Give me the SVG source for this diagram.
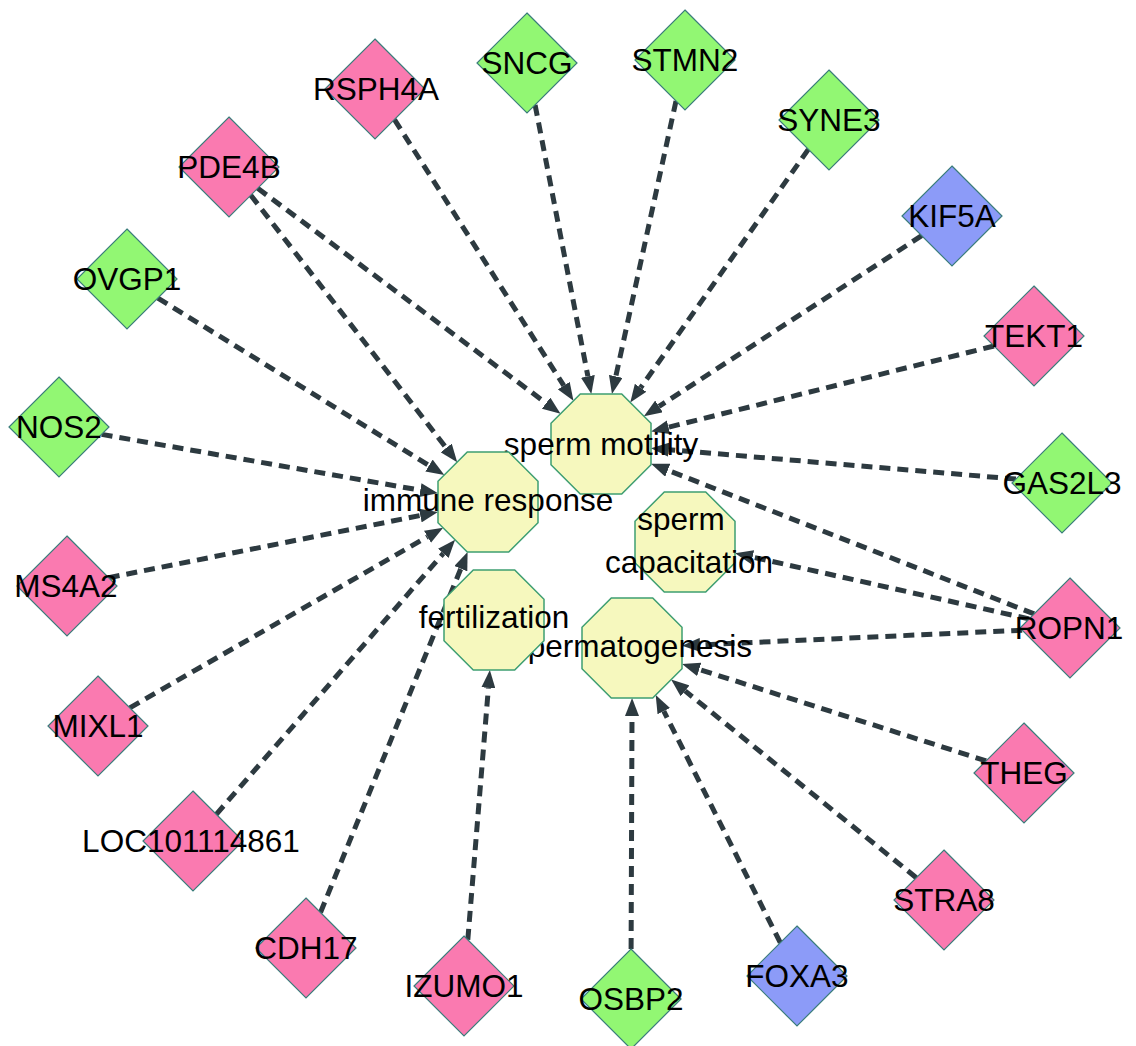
<svg xmlns="http://www.w3.org/2000/svg" width="1136" height="1046" viewBox="0 0 1136 1046">
<style>
.edge{stroke:#2D3A40;stroke-width:5;stroke-dasharray:11 7;fill:none;marker-end:url(#arr)}
.dia{stroke:#3A7D7B;stroke-width:1.2}
.pink{fill:#FA7AB0}
.green{fill:#92F773}
.blue{fill:#8C9BF8}
.oct{fill:#F6F8BE;stroke:#3E9E72;stroke-width:1.5}
text{font-family:"Liberation Sans",Arial,sans-serif;font-size:31.5px;fill:#000;text-anchor:middle}
</style>
<defs>
<marker id="arr" viewBox="0 0 18 14" refX="0" refY="7" markerWidth="18" markerHeight="14" orient="auto" markerUnits="userSpaceOnUse"><path d="M0,0 L18,7 L0,14 z" fill="#2D3A40"/></marker>
<polygon id="dshape" points="0,-50 50,0 0,50 -50,0"/>
<polygon id="oshape" points="-20.71,-50 20.71,-50 50,-20.71 50,20.71 20.71,50 -20.71,50 -50,20.71 -50,-20.71"/>
</defs>
<rect width="1136" height="1046" fill="#fff"/>
<g id="edges">
<line class="edge" x1="394.5" y1="119.6" x2="563.8" y2="385.6"/>
<line class="edge" x1="535.1" y1="104.9" x2="587.9" y2="376.3"/>
<line class="edge" x1="676.0" y1="101.0" x2="615.8" y2="376.4"/>
<line class="edge" x1="808.3" y1="149.4" x2="640.6" y2="387.8"/>
<line class="edge" x1="921.7" y1="235.7" x2="659.0" y2="406.4"/>
<line class="edge" x1="994.0" y1="346.0" x2="668.5" y2="427.2"/>
<line class="edge" x1="1015.9" y1="479.1" x2="668.9" y2="449.7"/>
<line class="edge" x1="1034.1" y1="613.9" x2="667.8" y2="470.2"/>
<line class="edge" x1="1029.1" y1="618.9" x2="752.6" y2="557.1"/>
<line class="edge" x1="1022.2" y1="630.2" x2="700.0" y2="644.9"/>
<line class="edge" x1="257.7" y1="188.3" x2="546.1" y2="403.1"/>
<line class="edge" x1="250.8" y1="195.2" x2="446.2" y2="447.9"/>
<line class="edge" x1="157.9" y1="298.1" x2="429.0" y2="465.5"/>
<line class="edge" x1="101.6" y1="434.4" x2="420.3" y2="490.2"/>
<line class="edge" x1="108.7" y1="577.7" x2="420.3" y2="515.5"/>
<line class="edge" x1="129.8" y1="707.8" x2="427.5" y2="536.8"/>
<line class="edge" x1="216.3" y1="814.3" x2="443.3" y2="553.4"/>
<line class="edge" x1="320.5" y1="912.5" x2="460.8" y2="568.7"/>
<line class="edge" x1="467.8" y1="939.8" x2="488.4" y2="687.9"/>
<line class="edge" x1="631.1" y1="949.0" x2="632.0" y2="716.0"/>
<line class="edge" x1="780.3" y1="942.7" x2="663.8" y2="711.1"/>
<line class="edge" x1="916.3" y1="877.7" x2="685.1" y2="690.9"/>
<line class="edge" x1="986.1" y1="760.9" x2="699.2" y2="669.4"/>
</g>
<g id="sperm_motility"><use href="#oshape" class="oct" transform="translate(601,444)"/><text x="601" y="455">sperm motility</text></g>
<g id="immune_response"><use href="#oshape" class="oct" transform="translate(488,502)"/><text x="488" y="511">immune response</text></g>
<g id="sperm_capacitation"><use href="#oshape" class="oct" transform="translate(685,542)"/><text x="681" y="530">sperm</text><text x="689" y="573">capacitation</text></g>
<g id="spermatogenesis"><use href="#oshape" class="oct" transform="translate(632,648)"/><text x="632" y="657">spermatogenesis</text></g>
<g id="fertilization"><use href="#oshape" class="oct" transform="translate(494,620)"/><text x="494" y="628">fertilization</text></g>
<g id="RSPH4A"><use href="#dshape" class="dia pink" transform="translate(375,89)"/><text x="376" y="100">RSPH4A</text></g>
<g id="SNCG"><use href="#dshape" class="dia green" transform="translate(527,63)"/><text x="527" y="74">SNCG</text></g>
<g id="STMN2"><use href="#dshape" class="dia green" transform="translate(685,60)"/><text x="685" y="71">STMN2</text></g>
<g id="SYNE3"><use href="#dshape" class="dia green" transform="translate(829,120)"/><text x="829" y="131">SYNE3</text></g>
<g id="KIF5A"><use href="#dshape" class="dia blue" transform="translate(952,216)"/><text x="952" y="227">KIF5A</text></g>
<g id="TEKT1"><use href="#dshape" class="dia pink" transform="translate(1034,336)"/><text x="1034" y="347">TEKT1</text></g>
<g id="GAS2L3"><use href="#dshape" class="dia green" transform="translate(1062,483)"/><text x="1062" y="494">GAS2L3</text></g>
<g id="ROPN1"><use href="#dshape" class="dia pink" transform="translate(1070,628)"/><text x="1069" y="639">ROPN1</text></g>
<g id="THEG"><use href="#dshape" class="dia pink" transform="translate(1024,773)"/><text x="1024" y="784">THEG</text></g>
<g id="STRA8"><use href="#dshape" class="dia pink" transform="translate(944,900)"/><text x="944" y="911">STRA8</text></g>
<g id="FOXA3"><use href="#dshape" class="dia blue" transform="translate(797,976)"/><text x="797" y="987">FOXA3</text></g>
<g id="OSBP2"><use href="#dshape" class="dia green" transform="translate(631,999)"/><text x="631" y="1010">OSBP2</text></g>
<g id="IZUMO1"><use href="#dshape" class="dia pink" transform="translate(464,986)"/><text x="464" y="997">IZUMO1</text></g>
<g id="CDH17"><use href="#dshape" class="dia pink" transform="translate(306,948)"/><text x="306" y="959">CDH17</text></g>
<g id="LOC101114861"><use href="#dshape" class="dia pink" transform="translate(193,841)"/><text x="191" y="852">LOC101114861</text></g>
<g id="MIXL1"><use href="#dshape" class="dia pink" transform="translate(98,726)"/><text x="98" y="737">MIXL1</text></g>
<g id="MS4A2"><use href="#dshape" class="dia pink" transform="translate(67,586)"/><text x="66" y="597">MS4A2</text></g>
<g id="NOS2"><use href="#dshape" class="dia green" transform="translate(59,427)"/><text x="59" y="438">NOS2</text></g>
<g id="OVGP1"><use href="#dshape" class="dia green" transform="translate(127,279)"/><text x="127" y="290">OVGP1</text></g>
<g id="PDE4B"><use href="#dshape" class="dia pink" transform="translate(229,167)"/><text x="229" y="178">PDE4B</text></g>
</svg>
